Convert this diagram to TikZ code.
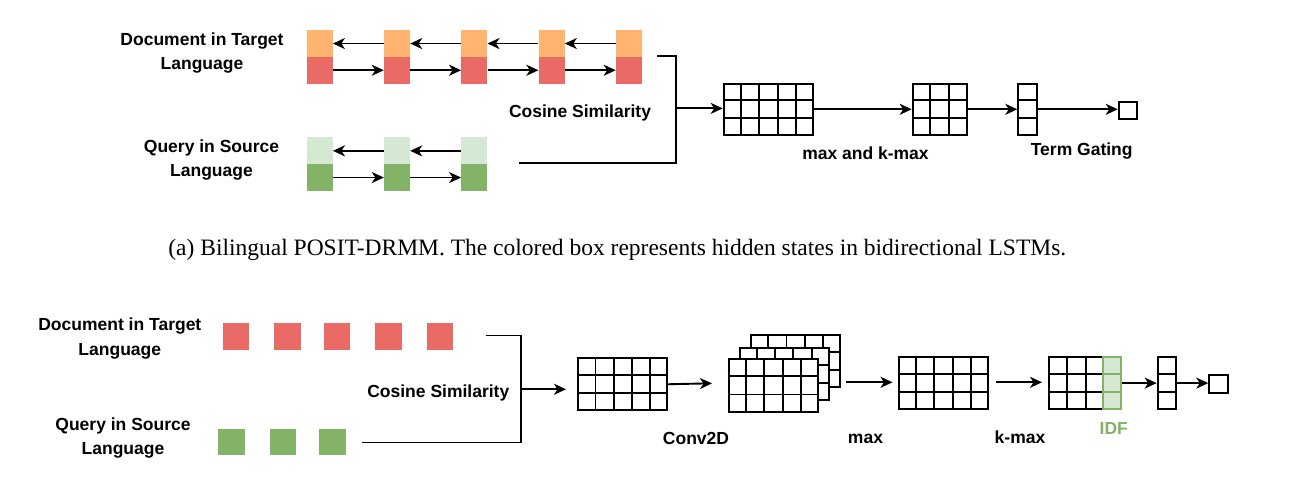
\documentclass[tikz,border=0pt]{standalone}
\usepackage{fontspec}
\setmainfont{Liberation Serif}
\setsansfont{Liberation Sans}
\usetikzlibrary{arrows.meta,calc}
\definecolor{orangeH}{HTML}{FFB570}
\definecolor{redH}{HTML}{EA6B66}
\definecolor{lgreen}{HTML}{D5E8D4}
\definecolor{dgreen}{HTML}{82B366}
\tikzset{
  lbl/.style={font=\sffamily\bfseries\fontsize{17.5}{24.3}\selectfont, align=center, inner sep=0},
  hbox/.style={inner sep=0, minimum width=26pt, minimum height=26.7pt, anchor=north west},
  sbox/.style={inner sep=0, minimum width=26.6pt, minimum height=26.3pt, anchor=north west},
  arr/.style={line width=1.9pt, -{Stealth[length=12pt,width=11pt,inset=3.5pt]}},
  ln/.style={line width=1.9pt},
  gridbox/.style={draw, line width=1.9pt, inner sep=0, anchor=north west, fill=white},
}
\newcommand{\mygrid}[4][black]{%
  \ifnum#3>1 \foreach \i in {2,...,#3}{\pgfmathsetmacro\ff{(\i-1)/#3}\draw[line width=1.9pt,#1] ($(#2.north west)!\ff!(#2.north east)$) -- ($(#2.south west)!\ff!(#2.south east)$);}\fi
  \ifnum#4>1 \foreach \j in {2,...,#4}{\pgfmathsetmacro\ff{(\j-1)/#4}\draw[line width=1.9pt,#1] ($(#2.north west)!\ff!(#2.south west)$) -- ($(#2.north east)!\ff!(#2.south east)$);}\fi
}
\begin{document}
\begin{tikzpicture}[x=1pt,y=-1pt]
\fill[white] (0,0) rectangle (1304,494);
\useasboundingbox (0,0) rectangle (1304,494);

% ===== Part (a) =====
\node[lbl] (docA) at (202,52.8) {Document in Target\\Language};
\node[lbl] (qryA) at (211.5,160) {Query in Source\\Language};

\foreach \k/\x in {1/306.5,2/383.8,3/461.1,4/538.4,5/615.7}{
  \node[hbox, fill=orangeH] (o\k) at (\x,30) {};
  \node[hbox, fill=redH] (r\k) at (\x,56.7) {};
}
\foreach \k/\x in {1/306.5,2/383.8,3/461.1}{
  \node[hbox, fill=lgreen] (lq\k) at (\x,137.3) {};
  \node[hbox, fill=dgreen] (dq\k) at (\x,164) {};
}
\foreach \i/\j in {1/2,2/3,3/4,4/5}{
  \draw[arr] (o\j.west) -- (o\i.east);
  \draw[arr] (r\i.east) -- (r\j.west);
}
\foreach \i/\j in {1/2,2/3}{
  \draw[arr] (lq\j.west) -- (lq\i.east);
  \draw[arr] (dq\i.east) -- (dq\j.west);
}

\coordinate (ta1) at (657,56);
\coordinate (ta2) at (676,56);
\coordinate (ta3) at (676,163);
\coordinate (ta4) at (518.5,163);
\coordinate (tam) at (676,108.4);
\draw[ln] (ta1) -- (ta2) -- (ta3) -- (ta4);
\node[lbl] (cosA) at (580,113) {Cosine Similarity};

\node[gridbox, minimum width=89.6pt, minimum height=51.3pt] (g1) at (722.7,82.7) {};
\mygrid{g1}{5}{3}
\node[gridbox, minimum width=54.3pt, minimum height=51.3pt] (g2) at (911.7,82.7) {};
\mygrid{g2}{3}{3}
\node[gridbox, minimum width=18.5pt, minimum height=51.3pt] (g3) at (1017.3,82.7) {};
\mygrid{g3}{1}{3}
\node[gridbox, minimum width=18.3pt, minimum height=17.6pt] (g4) at (1117.7,100.7) {};

\draw[arr] (tam) -- (tam -| g1.west);
\draw[arr] (g1.east) -- (g2.west);
\draw[arr] (g2.east) -- (g3.west);
\draw[arr] (g3.east) -- (g3.east -| g4.west);

\node[lbl] (maxA) at (865.5,153) {max and k-max};
\node[lbl] (tgA) at (1081.7,150.7) {Term Gating};

\node[font=\rmfamily\fontsize{23.5}{28}\selectfont, inner sep=0] (cap) at (617.3,250) {(a) Bilingual POSIT-DRMM. The colored box represents hidden states in bidirectional LSTMs.};

% ===== Part (b) =====
\node[lbl] (docB) at (119.8,338.5) {Document in Target\\Language};
\node[lbl] (qryB) at (123,438) {Query in Source\\Language};
\foreach \k/\x in {1/222.3,2/274,3/323.3,4/375,5/426.3}{
  \node[sbox, fill=redH] (rb\k) at (\x,323.3) {};
}
\foreach \k/\x in {1/218,2/269.3,3/319}{
  \node[sbox, fill=dgreen] (gb\k) at (\x,428.3) {};
}
\coordinate (tb1) at (485.7,335.5);
\coordinate (tb2) at (521,335.5);
\coordinate (tb3) at (521,442.5);
\coordinate (tb4) at (361.7,442.5);
\coordinate (tbm) at (521,389.3);
\coordinate (tbe) at (566,389.3);
\draw[ln] (tb1) -- (tb2) -- (tb3) -- (tb4);
\draw[arr] (tbm) -- (tbe);
\node[lbl] (cosB) at (438.3,393.3) {Cosine Similarity};

\node[gridbox, minimum width=89pt, minimum height=52pt] (ga) at (577.3,357.3) {};
\mygrid{ga}{5}{3}
\coordinate (gae) at (712,383.3);
\draw[arr] (ga.east) -- (gae);

\node[gridbox, minimum width=89.3pt, minimum height=52pt] (sk3) at (750,334) {};
\mygrid{sk3}{5}{3}
\node[gridbox, minimum width=89.3pt, minimum height=52pt] (sk2) at (738.7,346.7) {};
\mygrid{sk2}{5}{3}
\node[gridbox, minimum width=89.6pt, minimum height=52.4pt] (sk1) at (727.7,358.3) {};
\mygrid{sk1}{5}{3}

\node[gridbox, minimum width=89.6pt, minimum height=52.3pt] (gb) at (897.7,356) {};
\mygrid{gb}{5}{3}
\coordinate (ms) at (846,382.3);
\coordinate (me) at (892.5,382.3);
\draw[arr] (ms) -- (me);

\node[gridbox, minimum width=54pt, minimum height=52.3pt] (gc) at (1048.3,356) {};
\mygrid{gc}{3}{3}
\node[gridbox, draw=dgreen, fill=lgreen, minimum width=17.7pt, minimum height=52.3pt] (idf) at (1102.3,356) {};
\mygrid[dgreen]{idf}{1}{3}
\coordinate (ks) at (996,382.3);
\coordinate (ke) at (1042,382.3);
\draw[arr] (ks) -- (ke);

\node[gridbox, minimum width=18.3pt, minimum height=52.3pt] (gd) at (1156.7,356) {};
\mygrid{gd}{1}{3}
\node[gridbox, minimum width=18.4pt, minimum height=18.3pt] (ge) at (1208.3,374) {};
\draw[arr] (idf.east) -- (gd.west);
\draw[arr] (gd.east) -- (gd.east -| ge.west);

\node[lbl] (conv) at (696,438) {Conv2D};
\node[lbl] (maxB) at (865.5,438.7) {max};
\node[lbl] (kmax) at (1020,437.3) {k-max};
\node[lbl, text=dgreen] (idfl) at (1113.8,428.3) {IDF};
\end{tikzpicture}
\end{document}
